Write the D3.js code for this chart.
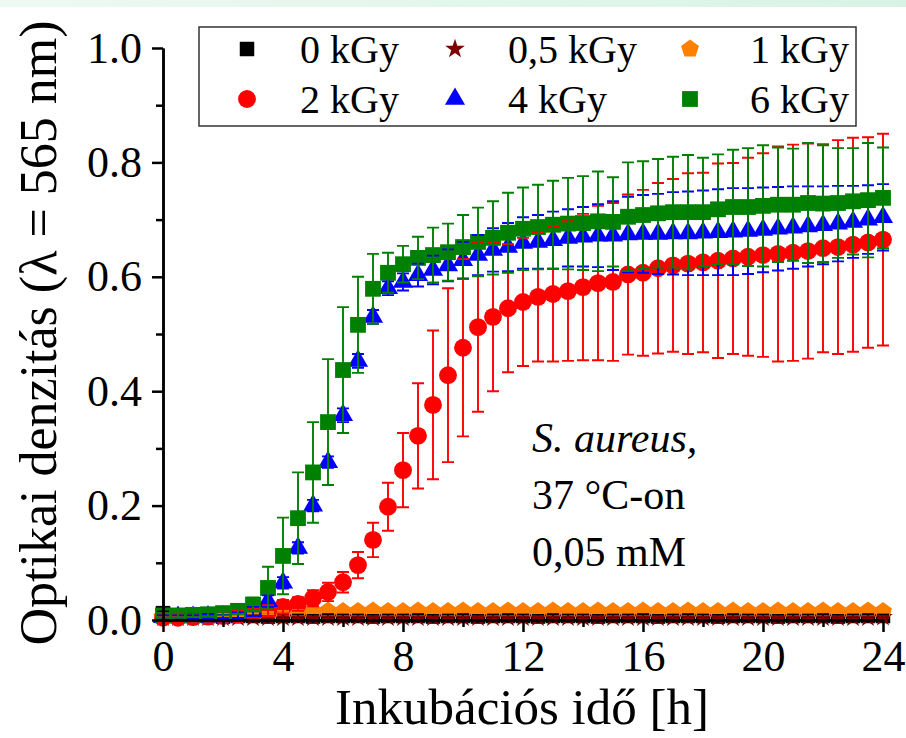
<!DOCTYPE html>
<html>
<head>
<meta charset="utf-8">
<script src="https://cdn.jsdelivr.net/npm/d3@7"></script>
<style>
  body { margin: 0; background: #fff; }
  svg { display: block; }
  text { font-family: "Liberation Serif", "Times New Roman", Times, "Nimbus Roman", "DejaVu Serif", serif; fill: #000; }
</style>
</head>
<body>
<div id="chart"></div>
<script>
// incubation time [h]
const hours = [
  0, 0.5, 1, 1.5, 2, 2.5, 3, 3.5, 4, 4.5,
  5, 5.5, 6, 6.5, 7, 7.5, 8, 8.5, 9, 9.5,
  10, 10.5, 11, 11.5, 12, 12.5, 13, 13.5, 14, 14.5,
  15, 15.5, 16, 16.5, 17, 17.5, 18, 18.5, 19, 19.5,
  20, 20.5, 21, 21.5, 22, 22.5, 23, 23.5, 24
]

// optical density per dose, with standard deviation
const od0 = [
  0.012, 0.007, 0.007, 0.007, 0.006, 0.007, 0.007, 0.006, 0.007, 0.007,
  0.006, 0.007, 0.007, 0.007, 0.006, 0.007, 0.007, 0.007, 0.006, 0.007,
  0.007, 0.006, 0.007, 0.007, 0.007, 0.006, 0.007, 0.007, 0.007, 0.006,
  0.007, 0.007, 0.007, 0.006, 0.007, 0.007, 0.007, 0.006, 0.007, 0.007,
  0.007, 0.006, 0.007, 0.007, 0.007, 0.006, 0.007, 0.007, 0.007
]
const sd0 = [
  0.003, 0.003, 0.003, 0.003, 0.003, 0.003, 0.003, 0.003, 0.003, 0.003,
  0.003, 0.003, 0.003, 0.003, 0.003, 0.003, 0.003, 0.003, 0.003, 0.003,
  0.003, 0.003, 0.003, 0.003, 0.003, 0.003, 0.003, 0.003, 0.003, 0.003,
  0.003, 0.003, 0.003, 0.003, 0.003, 0.003, 0.003, 0.003, 0.003, 0.003,
  0.003, 0.003, 0.003, 0.003, 0.003, 0.003, 0.003, 0.003, 0.003
]
const od05 = [
  0.004, 0.004, 0.004, 0.004, 0.004, 0.004, 0.004, 0.004, 0.004, 0.004,
  0.004, 0.004, 0.004, 0.004, 0.004, 0.004, 0.004, 0.004, 0.004, 0.004,
  0.004, 0.004, 0.004, 0.004, 0.004, 0.004, 0.004, 0.004, 0.004, 0.004,
  0.004, 0.004, 0.004, 0.004, 0.004, 0.004, 0.004, 0.004, 0.004, 0.004,
  0.004, 0.004, 0.004, 0.004, 0.004, 0.004, 0.004, 0.004, 0.005
]
const sd05 = [
  0.002, 0.002, 0.002, 0.002, 0.002, 0.002, 0.002, 0.002, 0.002, 0.002,
  0.002, 0.002, 0.002, 0.002, 0.002, 0.002, 0.002, 0.002, 0.002, 0.002,
  0.002, 0.002, 0.002, 0.002, 0.002, 0.002, 0.002, 0.002, 0.002, 0.002,
  0.002, 0.002, 0.002, 0.002, 0.002, 0.002, 0.002, 0.002, 0.002, 0.002,
  0.002, 0.002, 0.002, 0.002, 0.002, 0.002, 0.002, 0.002, 0.002
]
const od1 = [
  0.006, 0.006, 0.006, 0.007, 0.008, 0.009, 0.010, 0.012, 0.014, 0.015,
  0.015, 0.016, 0.015, 0.015, 0.016, 0.015, 0.015, 0.016, 0.015, 0.015,
  0.016, 0.015, 0.015, 0.016, 0.015, 0.015, 0.016, 0.015, 0.015, 0.016,
  0.015, 0.015, 0.016, 0.015, 0.015, 0.016, 0.015, 0.015, 0.016, 0.015,
  0.015, 0.016, 0.015, 0.015, 0.016, 0.015, 0.015, 0.016, 0.015
]
const sd1 = [
  0.002, 0.002, 0.002, 0.002, 0.002, 0.002, 0.002, 0.002, 0.002, 0.002,
  0.002, 0.002, 0.002, 0.002, 0.002, 0.002, 0.002, 0.002, 0.002, 0.002,
  0.002, 0.002, 0.002, 0.002, 0.002, 0.002, 0.002, 0.002, 0.002, 0.002,
  0.002, 0.002, 0.002, 0.002, 0.002, 0.002, 0.002, 0.002, 0.002, 0.002,
  0.002, 0.002, 0.002, 0.002, 0.002, 0.002, 0.002, 0.002, 0.002
]
const od2 = [
  0.004, 0.004, 0.005, 0.006, 0.007, 0.009, 0.012, 0.016, 0.023, 0.028,
  0.038, 0.049, 0.066, 0.096, 0.140, 0.198, 0.262, 0.322, 0.376, 0.428,
  0.476, 0.512, 0.530, 0.545, 0.556, 0.565, 0.570, 0.575, 0.582, 0.589,
  0.591, 0.604, 0.607, 0.615, 0.620, 0.623, 0.625, 0.628, 0.632, 0.635,
  0.638, 0.640, 0.642, 0.645, 0.650, 0.652, 0.656, 0.660, 0.665
]
const sd2 = [
  0.008, 0.008, 0.008, 0.008, 0.008, 0.008, 0.008, 0.010, 0.012, 0.012,
  0.014, 0.016, 0.018, 0.023, 0.030, 0.042, 0.065, 0.092, 0.130, 0.152,
  0.155, 0.148, 0.130, 0.112, 0.112, 0.113, 0.118, 0.122, 0.128, 0.135,
  0.138, 0.140, 0.145, 0.149, 0.151, 0.158, 0.157, 0.170, 0.167, 0.173,
  0.178, 0.188, 0.189, 0.188, 0.182, 0.187, 0.187, 0.184, 0.185
]
const od4 = [
  0.005, 0.005, 0.005, 0.006, 0.006, 0.008, 0.015, 0.033, 0.065, 0.126,
  0.200, 0.276, 0.358, 0.453, 0.530, 0.580, 0.591, 0.603, 0.612, 0.620,
  0.629, 0.638, 0.647, 0.652, 0.659, 0.661, 0.664, 0.668, 0.670, 0.672,
  0.672, 0.674, 0.675, 0.675, 0.676, 0.676, 0.677, 0.678, 0.679, 0.680,
  0.682, 0.684, 0.686, 0.688, 0.690, 0.693, 0.696, 0.700, 0.704
]
const sd4 = [
  0.003, 0.003, 0.003, 0.003, 0.003, 0.005, 0.008, 0.010, 0.010, 0.010,
  0.010, 0.010, 0.012, 0.012, 0.012, 0.012, 0.015, 0.020, 0.025, 0.028,
  0.032, 0.035, 0.038, 0.042, 0.045, 0.047, 0.050, 0.050, 0.052, 0.055,
  0.060, 0.066, 0.068, 0.070, 0.072, 0.073, 0.074, 0.075, 0.076, 0.075,
  0.074, 0.073, 0.072, 0.070, 0.068, 0.066, 0.063, 0.060, 0.058
]
const od6 = [
  0.008, 0.008, 0.009, 0.010, 0.012, 0.016, 0.027, 0.056, 0.112, 0.178,
  0.258, 0.346, 0.437, 0.516, 0.579, 0.607, 0.622, 0.633, 0.638, 0.643,
  0.652, 0.661, 0.668, 0.677, 0.684, 0.687, 0.691, 0.693, 0.694, 0.697,
  0.696, 0.705, 0.708, 0.711, 0.713, 0.713, 0.713, 0.718, 0.722, 0.722,
  0.724, 0.726, 0.726, 0.729, 0.728, 0.729, 0.732, 0.734, 0.738
]
const sd6 = [
  0.004, 0.004, 0.004, 0.004, 0.004, 0.006, 0.012, 0.037, 0.067, 0.080,
  0.088, 0.110, 0.110, 0.084, 0.061, 0.035, 0.032, 0.037, 0.048, 0.050,
  0.056, 0.060, 0.064, 0.070, 0.072, 0.074, 0.077, 0.080, 0.082, 0.087,
  0.078, 0.095, 0.094, 0.095, 0.097, 0.100, 0.095, 0.096, 0.100, 0.103,
  0.106, 0.100, 0.098, 0.105, 0.102, 0.096, 0.093, 0.100, 0.088
]

const doseLabels = ["0 kGy", "0,5 kGy", "1 kGy", "2 kGy", "4 kGy", "6 kGy"]
const xTicks = [0, 4, 8, 12, 16, 20, 24]
const xMinorTicks = [2, 6, 10, 14, 18, 22]
const yTicks = [0, 0.2, 0.4, 0.6, 0.8, 1.0]
const yMinorTicks = [0.1, 0.3, 0.5, 0.7, 0.9]
const noteLines = ["S. aureus,", "37 °C-on", "0,05 mM"]

const W = 906, H = 738
const serif = '"Liberation Serif", "Times New Roman", Times, "Nimbus Roman", "DejaVu Serif", serif'
const x = d3.scaleLinear().domain([0, 24]).range([163, 883])
const y = d3.scaleLinear().domain([0, 1]).range([620, 48])

// pentagon with a point on top
const symbolPentagon = {
  draw(ctx, size) {
    const r = Math.sqrt(size / 2.3776)
    for (let i = 0; i < 5; i++) {
      const a = -Math.PI / 2 + i * 2 * Math.PI / 5
      if (i === 0) ctx.moveTo(r * Math.cos(a), r * Math.sin(a))
      else ctx.lineTo(r * Math.cos(a), r * Math.sin(a))
    }
    ctx.closePath()
  }
}

const series = [
  { name: doseLabels[0], od: od0, sd: sd0, color: "#000000", symbol: d3.symbolSquare, size: 210 },
  { name: doseLabels[1], od: od05, sd: sd05, color: "#800000", symbol: d3.symbolStar, size: 120 },
  { name: doseLabels[2], od: od1, sd: sd1, color: "#ff8000", symbol: symbolPentagon, size: 210 },
  { name: doseLabels[3], od: od2, sd: sd2, color: "#ff0000", symbol: d3.symbolCircle, size: 250 },
  { name: doseLabels[4], od: od4, sd: sd4, color: "#0000ff", symbol: d3.symbolTriangle, size: 175 },
  { name: doseLabels[5], od: od6, sd: sd6, color: "#008000", symbol: d3.symbolSquare, size: 250 }
]

const svg = d3.select("#chart").append("svg").attr("width", W).attr("height", H)

// pale slide band along the top edge
const grad = svg.append("defs").append("linearGradient").attr("id", "band")
grad.append("stop").attr("offset", "0%").attr("stop-color", "#eef9f3")
grad.append("stop").attr("offset", "100%").attr("stop-color", "#d8f3e5")
svg.append("rect").attr("width", W).attr("height", 7).attr("fill", "url(#band)")

drawMarkers()
drawErrorBars()
drawAxes()
drawLegend()
drawNote()

function drawMarkers() {
  const g = svg.append("g").attr("class", "markers")
  series.forEach(s => {
    const path = d3.symbol().type(s.symbol).size(s.size)()
    g.append("g").selectAll("path").data(hours).join("path")
      .attr("d", path)
      .attr("transform", (t, i) => `translate(${x(t)},${y(s.od[i])})`)
      .attr("fill", s.color)
  })
}

function drawErrorBars() {
  const g = svg.append("g").attr("class", "errorbars")
  const cap = 6
  series.forEach(s => {
    const bars = g.append("g").attr("stroke", s.color).attr("stroke-width", 1.9).attr("fill", "none")
    bars.selectAll("path").data(hours).join("path")
      .attr("d", (t, i) => {
        const cx = x(t), top = y(s.od[i] + s.sd[i]), bot = y(s.od[i] - s.sd[i])
        return `M${cx},${top}V${bot}M${cx - cap},${top}H${cx + cap}M${cx - cap},${bot}H${cx + cap}`
      })
  })
}

function drawAxes() {
  const xAxis = svg.append("g").attr("transform", `translate(0,${y(0)})`)
  xAxis.append("g").call(d3.axisBottom(x).tickValues(xMinorTicks).tickSize(7).tickSizeOuter(0).tickFormat(""))
  xAxis.append("g").call(d3.axisBottom(x).tickValues(xTicks).tickSize(12).tickSizeOuter(0).tickPadding(8))
  const yAxis = svg.append("g").attr("transform", `translate(${x(0)},0)`)
  yAxis.append("g").call(d3.axisLeft(y).tickValues(yMinorTicks).tickSize(7).tickSizeOuter(0).tickFormat(""))
  yAxis.append("g").call(d3.axisLeft(y).tickValues(yTicks).tickSize(11).tickSizeOuter(0).tickPadding(10).tickFormat(d3.format(".1f")))

  svg.selectAll(".domain, .tick line").attr("stroke", "#000").attr("stroke-width", 2.5)
  svg.selectAll(".tick text").attr("font-family", null).style("font-family", serif).style("font-size", "44px").attr("fill", "#000")

  svg.append("text").attr("x", 522).attr("y", 724).attr("text-anchor", "middle")
    .style("font-size", "51px").text("Inkubációs idő [h]")
  svg.append("text").attr("transform", "translate(56,333) rotate(-90)").attr("text-anchor", "middle")
    .style("font-size", "52px").text("Optikai denzitás (λ = 565 nm)")
}

function drawLegend() {
  const g = svg.append("g").attr("class", "legend")
  g.append("rect").attr("x", 199).attr("y", 27).attr("width", 657).attr("height", 99)
    .attr("fill", "#fff").attr("stroke", "#333").attr("stroke-width", 1.5)
  const colX = [247, 455, 690], textX = [300, 508, 750], rowY = [49, 99]
  series.forEach((s, i) => {
    const col = i % 3, row = Math.floor(i / 3)
    const item = g.append("g").attr("transform", `translate(${colX[col]},${rowY[row]})`)
    item.append("path").attr("d", d3.symbol().type(s.symbol).size(s.size)()).attr("fill", s.color)
    g.append("text").attr("x", textX[col]).attr("y", rowY[row] + 14)
      .style("font-size", "40px").text(s.name)
  })
}

function drawNote() {
  const g = svg.append("g").attr("class", "note")
  noteLines.forEach((line, i) => {
    g.append("text").attr("x", 532).attr("y", 452 + i * 57)
      .style("font-size", "42px").style("font-style", i === 0 ? "italic" : "normal").text(line)
  })
}
</script>
</body>
</html>
